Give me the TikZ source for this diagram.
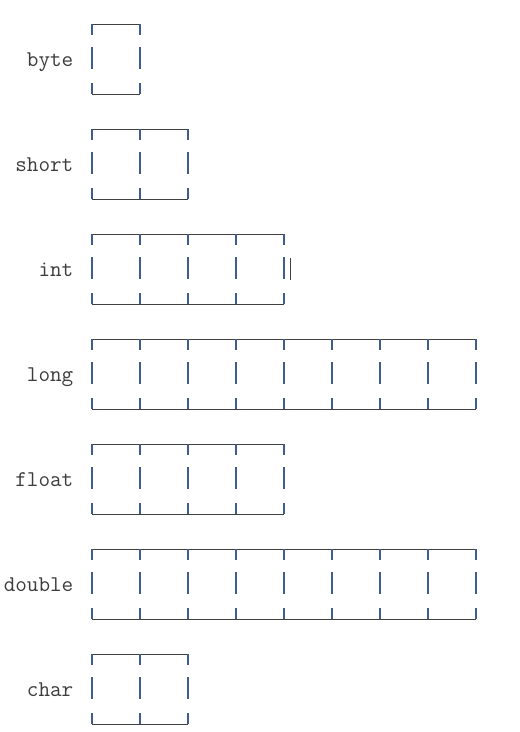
\documentclass[tikz,border=0pt]{standalone}
\usepackage{fontspec}
\usetikzlibrary{positioning}
\definecolor{rulegray}{RGB}{64,64,64}
\definecolor{barblue}{RGB}{62,92,145}
\definecolor{textgray}{RGB}{60,60,60}
\tikzset{
	x=1pt, y=-1pt,
	typelabel/.style={
		anchor=base east,
		inner sep=0pt,
		text=textgray,
		font=\fontsize{22.5}{22.5}\selectfont\ttfamily},
	hrule/.style={draw=rulegray, line width=1pt},
	vbar/.style={draw=barblue, line width=1.6pt},
	extrabar/.style={draw=rulegray, line width=1pt},
}

\begin{document}
\begin{tikzpicture}
		\useasboundingbox (0,0) rectangle (520,732);
		% one row per type: name / number of bytes
		\foreach \tname/\cells [count=\i from 0] in {byte/1,short/2,int/4,long/8,float/4,double/8,char/2}{
			\pgfmathsetmacro{\ytop}{24+105*\i}
			\node[typelabel] (\tname) at (73.5,\ytop+42) {\tname};
			\draw[hrule] (92,\ytop) -- ++(48*\cells,0);
			\draw[hrule] (92,\ytop+70) -- ++(48*\cells,0);
			\foreach \k in {0,...,\cells}{
				\draw[vbar] (92+48*\k,\ytop) -- ++(0,11);
				\draw[vbar] (92+48*\k,\ytop+23) -- ++(0,22);
				\draw[vbar] (92+48*\k,\ytop+59) -- ++(0,11);
			}
		}
		\draw[extrabar] (290,258) -- (290,280);
\end{tikzpicture}
\end{document}
